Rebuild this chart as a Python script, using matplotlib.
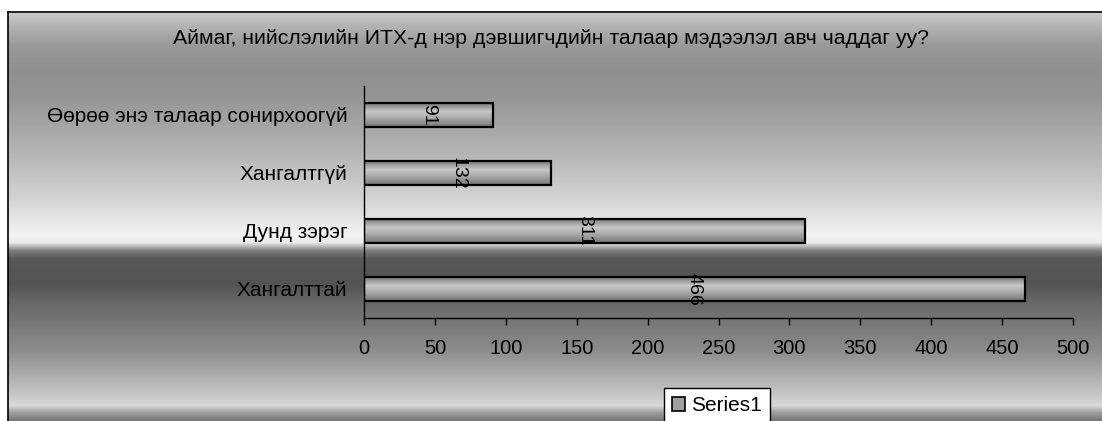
import numpy as np
import matplotlib.pyplot as plt

plt.rcParams['font.family'] = ['Liberation Sans', 'DejaVu Sans']

title = 'Аймаг, нийслэлийн ИТХ-д нэр дэвшигчдийн талаар мэдээлэл авч чаддаг уу?'
categories = ['Хангалттай', 'Дунд зэрэг', 'Хангалтгүй', 'Өөрөө энэ талаар сонирхоогүй']
values = [466, 311, 132, 91]
xticks = [0, 50, 100, 150, 200, 250, 300, 350, 400, 450, 500]

W, H = 1102, 421
fig = plt.figure(figsize=(W / 100, H / 100), dpi=100, facecolor='white')

# background panel with excel-like gradient
bg = fig.add_axes([8 / W, 0, 1 - 8 / W, (H - 12) / H], zorder=-5)
rows = np.arange(12, H)
py = [12, 22, 45, 70, 95, 150, 200, 235, 242, 250, 258, 285, 300, 350, 395, 405, 412, 421]
pg = [0.80, 0.72, 0.60, 0.56, 0.58, 0.70, 0.83, 0.95, 0.92, 0.50, 0.34, 0.33, 0.40, 0.55, 0.78, 0.85, 0.62, 0.45]
grad = np.interp(rows, py, pg)[:, None]
bg.imshow(grad, aspect='auto', cmap='gray', vmin=0, vmax=1, extent=[0, 1, 0, 1])
bg.set_xticks([])
bg.set_yticks([])
for s in ['right', 'bottom']:
    bg.spines[s].set_visible(False)
bg.spines['left'].set_linewidth(1.2)
bg.spines['top'].set_linewidth(1.2)

fig.text(0.5, 1 - 39 / H, title, ha='center', va='center', fontsize=15.3)

ax = fig.add_axes([364 / W, (H - 318) / H, (1073 - 364) / W, (318 - 86) / H])
ax.patch.set_alpha(0)
y = np.arange(len(categories))
bars = ax.barh(y, values, height=0.41, color='#a0a0a0', edgecolor='black',
               linewidth=1.6, zorder=3, label='Series1')

# gradient inside each bar
bar_grad = np.interp(np.linspace(0, 1, 50), [0, 0.15, 0.35, 0.6, 0.85, 1],
                     [0.45, 0.62, 0.78, 0.68, 0.55, 0.45])[:, None]
for b in bars:
    im = ax.imshow(bar_grad, aspect='auto', cmap='gray', vmin=0, vmax=1,
                   extent=[b.get_x(), b.get_x() + b.get_width(), b.get_y(), b.get_y() + b.get_height()],
                   zorder=2)
    im.set_clip_path(b)
    b.set_facecolor('none')

for yi, v in zip(y, values):
    ax.text(v / 2, yi, str(v), rotation=270, ha='center', va='center', fontsize=14, zorder=4)

ax.set_xlim(0, 500)
ax.set_ylim(-0.5, 3.5)
ax.set_xticks(xticks)
ax.set_yticks(y)
ax.set_yticklabels(categories)
ax.tick_params(axis='x', direction='out', length=5, width=1, pad=10, labelsize=14.5)
ax.tick_params(axis='y', length=0, pad=12, labelsize=15)
for s in ['top', 'right']:
    ax.spines[s].set_visible(False)
ax.spines['left'].set_linewidth(1)
ax.spines['bottom'].set_linewidth(1)

leg = fig.legend(handles=[bars], labels=['Series1'], loc='upper left',
                 bbox_to_anchor=(664 / W, 1 - 388 / H), bbox_transform=fig.transFigure,
                 fancybox=False, edgecolor='black', facecolor='white', framealpha=1,
                 fontsize=15, handlelength=0.6, handleheight=0.6, handletextpad=0.3,
                 borderpad=0.4, borderaxespad=0)
leg.get_frame().set_linewidth(1)
for h in leg.legend_handles:
    h.set_facecolor('#a0a0a0')
    h.set_linewidth(1.2)

fig.savefig('out.png', dpi=100, facecolor='white')
